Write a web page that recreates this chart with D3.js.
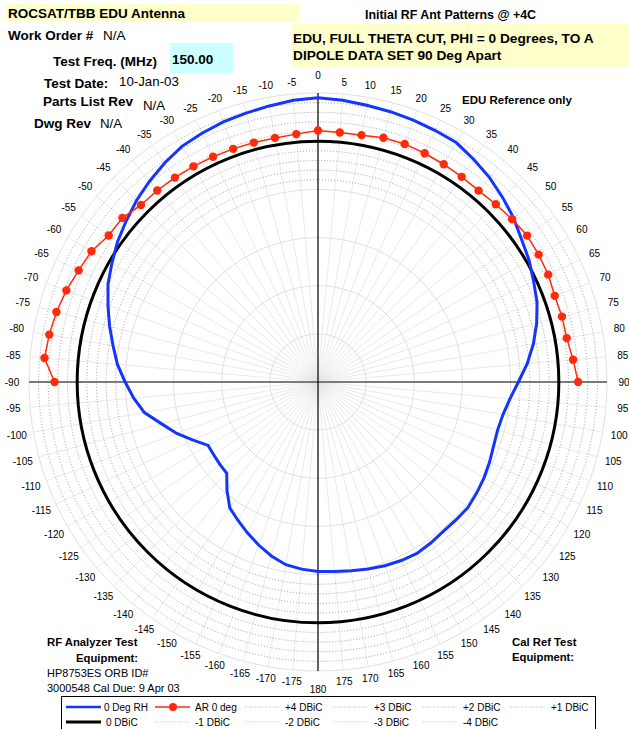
<!DOCTYPE html>
<html><head><meta charset="utf-8">
<script src="https://cdn.jsdelivr.net/npm/d3@7"></script>
<style>
body{margin:0;background:#fff;}
svg{display:block;font-family:"Liberation Sans",Arial,Helvetica,sans-serif;}
</style></head><body>
<svg id="chart" width="629" height="729"></svg>
<script>
// Theta cut, 5 degree steps, gain in dBiC
const rhAngles = d3.range(-180, 180, 5);
const rhGain = [
  -5.32, -5.5, -5.74, -6.3, -6.99, -7.7, -8.4, -9.04, -10.3, -11.6, -11.7, -11.8,
  -11.83, -10.7, -9.4, -8.2, -6.7, -5.8, -4.98, -4.1, -3.4, -2.6, -1.8, -0.95,
  -0.3, 0.4, 1.0, 1.65, 2.2, 2.75, 3.25, 3.5, 3.73, 3.9, 4.1, 4.35,
  4.5, 4.35, 4.17, 4.05, 3.92, 3.8, 3.7, 3.2, 2.7, 2.1, 1.5, 0.8,
  0.3, -0.3, -0.8, -1.5, -2.3, -3.2, -4.2, -5.0, -5.5, -5.7, -5.6, -5.35,
  -5.1, -4.9, -4.7, -4.75, -4.77, -4.6, -4.46, -4.55, -4.7, -4.9, -5.1, -5.25
];
const arAngles = d3.range(-90, 95, 5);
const arGain = [
  2.35, 3.5, 3.33, 3.11, 2.8, 2.42, 2.15, 1.52, 1.5, 0.99, 0.95, 0.9, 0.85, 0.8, 0.75, 0.73, 0.73, 0.83,
  1.11, 1.0, 1.02, 1.25, 1.3, 1.2, 1.1, 1.0, 0.93, 1.1, 1.3, 1.5, 1.45, 1.37, 1.15, 1.22, 1.22, 1.58, 2.0
];
const refLevels = [4, 3, 2, 1, -1, -2, -3, -4];
const ringLevels = [-20, -15, -10, -5, 0, 5];
const angleTicks = d3.range(-175, 185, 5);
const legendItems = [
  {name: "0 Deg RH", kind: "rh"}, {name: "AR 0 deg", kind: "ar"},
  {name: "+4 DBiC", kind: "ref"}, {name: "+3 DBiC", kind: "ref"},
  {name: "+2 DBiC", kind: "ref"}, {name: "+1 DBiC", kind: "ref"},
  {name: "0 DBiC", kind: "zero"}, {name: "-1 DBiC", kind: "ref"},
  {name: "-2 DBiC", kind: "ref"}, {name: "-3 DBiC", kind: "ref"},
  {name: "-4 DBiC", kind: "ref"}
];

const svg = d3.select("#chart");
const cx = 318, cy = 382;
const r = d3.scaleLinear().domain([-25, 5]).range([0, 289]);
const rad = d => d * Math.PI / 180;
const BLUE = "#1535ff", RED = "#ff2a0a";

// header blocks
svg.append("rect").attr("x", 5).attr("y", 4).attr("width", 294).attr("height", 17).attr("fill", "#ffffcc");
svg.append("rect").attr("x", 292).attr("y", 24).attr("width", 337).attr("height", 43).attr("fill", "#ffffcc");
svg.append("rect").attr("x", 170).attr("y", 43).attr("width", 63).attr("height", 30).attr("fill", "#ccffff");

const txt = (x, y, s, size, bold, anchor) => svg.append("text")
  .attr("x", x).attr("y", y).attr("font-size", size)
  .attr("font-weight", bold ? "bold" : "normal")
  .attr("text-anchor", anchor || "start").attr("fill", "#000").text(s);

txt(8, 18, "ROCSAT/TBB EDU Antenna", 13.5, true);
txt(8, 40, "Work Order #", 13.5, true);
txt(103, 40, "N/A", 13.5, false);
txt(53, 66, "Test Freq. (MHz)", 13.5, true);
txt(172, 64, "150.00", 13.5, true);
txt(44, 88, "Test Date:", 13.5, true);
txt(119, 86, "10-Jan-03", 13.3, false);
txt(43, 106, "Parts List Rev", 13.5, true);
txt(143, 110, "N/A", 13.3, false);
txt(34, 128, "Dwg Rev", 13.5, true);
txt(100, 128, "N/A", 13.3, false);
txt(365, 19, "Initial RF Ant Patterns @ +4C", 12.4, true);
txt(293, 43, "EDU, FULL THETA CUT, PHI = 0 Degrees, TO A", 13.7, true);
txt(293, 60, "DIPOLE DATA SET 90 Deg Apart", 13.7, true);
txt(462, 104, "EDU Reference only", 11.5, true);
txt(47, 646, "RF Analyzer Test", 11.3, true);
txt(76, 662, "Equipment:", 11.3, true);
txt(47, 677, "HP8753ES ORB ID#", 11, false);
txt(47, 692, "3000548 Cal Due: 9 Apr 03", 11, false);
txt(512, 646, "Cal Ref Test", 11.3, true);
txt(512, 661, "Equipment:", 11.3, true);

const g = svg.append("g").attr("transform", `translate(${cx},${cy})`);

// spokes every 5 degrees
g.append("g").selectAll("line").data(d3.range(0, 360, 5)).join("line")
  .attr("x1", 0).attr("y1", 0)
  .attr("x2", d => r(5) * Math.sin(rad(d)))
  .attr("y2", d => -r(5) * Math.cos(rad(d)))
  .attr("stroke", "#e3e3e3").attr("stroke-width", 0.8);

// solid rings
g.append("g").selectAll("circle").data(ringLevels).join("circle")
  .attr("r", d => r(d)).attr("fill", "none")
  .attr("stroke", "#dcdcdc").attr("stroke-width", 0.9);

// dotted reference rings
g.append("g").selectAll("circle").data(refLevels).join("circle")
  .attr("r", d => r(d)).attr("fill", "none")
  .attr("stroke", "#888").attr("stroke-width", 0.8).attr("stroke-dasharray", "1,2");

// axes
g.append("line").attr("x1", -r(5)).attr("x2", r(5)).attr("y1", 0).attr("y2", 0)
  .attr("stroke", "#555").attr("stroke-width", 1.5);
g.append("line").attr("x1", 0).attr("x2", 0).attr("y1", -r(5)).attr("y2", r(5))
  .attr("stroke", "#000").attr("stroke-width", 1.2);

// angle labels: distance grows toward the sides where labels are wider
const labelR = d => (d === 0 || d === 180) ? 307 : 306 - 5 * Math.cos(rad(d)) ** 2;
g.append("g").selectAll("text").data(angleTicks).join("text")
  .attr("x", d => labelR(d) * Math.sin(rad(d)))
  .attr("y", d => -labelR(d) * Math.cos(rad(d)))
  .attr("text-anchor", "middle").attr("dominant-baseline", "central")
  .attr("font-size", 10).attr("fill", "#000").text(d => d);

// 0 dBiC reference
g.append("circle").attr("r", r(0)).attr("fill", "none")
  .attr("stroke", "#000").attr("stroke-width", 3);

// RH pattern
const radial = d3.lineRadial().angle(d => rad(d[0])).radius(d => r(d[1]));
g.append("path").datum(rhAngles.map((a, i) => [a, rhGain[i]]))
  .attr("d", radial.curve(d3.curveLinearClosed))
  .attr("fill", "none").attr("stroke", BLUE).attr("stroke-width", 3);

// axial ratio
const arPts = arAngles.map((a, i) => [a, arGain[i]]);
g.append("path").datum(arPts)
  .attr("d", d3.lineRadial().angle(d => rad(d[0])).radius(d => r(d[1])))
  .attr("fill", "none").attr("stroke", RED).attr("stroke-width", 1.5);
g.append("g").selectAll("circle").data(arPts).join("circle")
  .attr("cx", d => r(d[1]) * Math.sin(rad(d[0])))
  .attr("cy", d => -r(d[1]) * Math.cos(rad(d[0])))
  .attr("r", 4.2).attr("fill", RED);

// legend
const lg = svg.append("g");
lg.append("rect").attr("x", 61.5).attr("y", 696.5).attr("width", 534).attr("height", 40)
  .attr("fill", "#fff").attr("stroke", "#000").attr("stroke-width", 1);
const colX = [66, 155, 245, 334, 423, 511];
legendItems.forEach((it, i) => {
  const row = i < 6 ? 0 : 1;
  const col = i < 6 ? i : i - 6;
  const x = colX[col], y = row === 0 ? 707 : 722;
  const line = lg.append("line").attr("x1", x).attr("x2", x + 35).attr("y1", y).attr("y2", y);
  if (it.kind === "rh") line.attr("stroke", BLUE).attr("stroke-width", 2.5);
  else if (it.kind === "ar") {
    line.attr("stroke", RED).attr("stroke-width", 1.5);
    lg.append("circle").attr("cx", x + 18).attr("cy", y).attr("r", 4).attr("fill", RED);
  } else if (it.kind === "zero") line.attr("stroke", "#000").attr("stroke-width", 3);
  else line.attr("stroke", "#aaa").attr("stroke-width", 0.8).attr("stroke-dasharray", "1,1.5");
  lg.append("text").attr("x", x + 38 + (it.kind === "rh" ? 0 : 2)).attr("y", y + 3.5)
    .attr("font-size", 10).attr("fill", "#000").text(it.name);
});
</script>
</body></html>
